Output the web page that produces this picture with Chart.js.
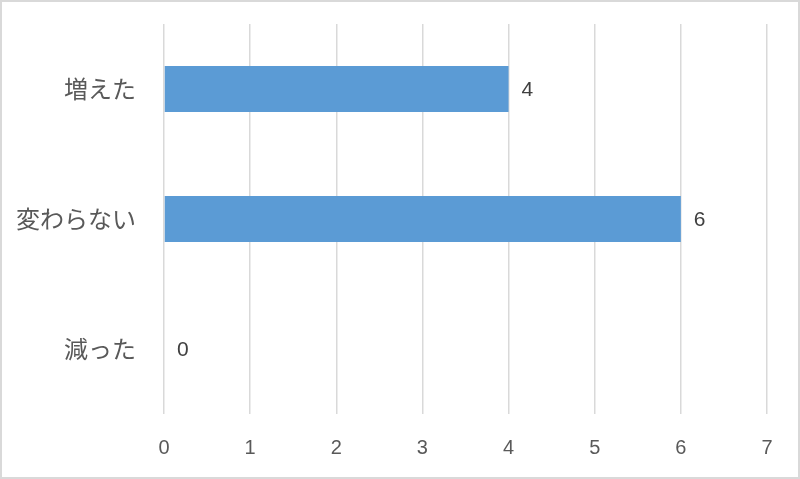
<!DOCTYPE html>
<html>
<head>
<meta charset="utf-8">
<script src="https://cdn.jsdelivr.net/npm/chart.js@4"></script>
<style>
  html, body { margin: 0; padding: 0; background: #fff; }
  #wrap { position: relative; width: 800px; height: 479px; }
</style>
</head>
<body>
<div id="wrap"><canvas id="c" width="800" height="479"></canvas></div>
<script>
const categories = ["増えた", "変わらない", "減った"];
const values = [4, 6, 0];
const xTicks = [0, 1, 2, 3, 4, 5, 6, 7];

const borderPlugin = {
  id: 'frame',
  afterDraw(chart) {
    const ctx = chart.ctx;
    ctx.save();
    ctx.strokeStyle = '#d9d9d9';
    ctx.lineWidth = 2;
    ctx.strokeRect(1, 1, chart.width - 2, chart.height - 2);
    ctx.restore();
  }
};

const labelPlugin = {
  id: 'valueLabels',
  afterDatasetsDraw(chart) {
    const ctx = chart.ctx;
    const meta = chart.getDatasetMeta(0);
    ctx.save();
    ctx.font = '21px "Liberation Sans", "DejaVu Sans", sans-serif';
    ctx.fillStyle = '#404040';
    ctx.textAlign = 'left';
    ctx.textBaseline = 'middle';
    meta.data.forEach((bar, i) => {
      ctx.fillText(String(values[i]), bar.x + 13, bar.y + 1);
    });
    ctx.restore();
  }
};

new Chart(document.getElementById('c'), {
  type: 'bar',
  data: {
    labels: categories,
    datasets: [{
      data: values,
      backgroundColor: '#5b9bd5',
      borderWidth: 0,
      barPercentage: 0.354,
      categoryPercentage: 1.0
    }]
  },
  options: {
    indexAxis: 'y',
    responsive: false,
    animation: false,
    layout: { padding: { top: 24, right: 33, bottom: 0, left: 0 } },
    plugins: {
      legend: { display: false },
      tooltip: { enabled: false }
    },
    scales: {
      x: {
        min: 0,
        max: 7,
        afterBuildTicks: (s) => { s.ticks = xTicks.map(v => ({ value: v })); },
        afterFit: (s) => { s.height = 65; },
        grid: { color: '#d9d9d9', lineWidth: 1.5, drawTicks: false },
        border: { display: false },
        ticks: {
          padding: 22,
          color: '#595959',
          font: { family: '"Liberation Sans", "DejaVu Sans", sans-serif', size: 20 }
        }
      },
      y: {
        afterFit: (s) => { s.width = 164; s.paddingTop = 0; s.paddingBottom = 0; },
        grid: { display: false, drawTicks: false },
        border: { display: false },
        ticks: {
          padding: 28,
          color: '#595959',
          font: { family: '"Noto Sans CJK JP", sans-serif', size: 24 }
        }
      }
    }
  },
  plugins: [borderPlugin, labelPlugin]
});
</script>
</body>
</html>
